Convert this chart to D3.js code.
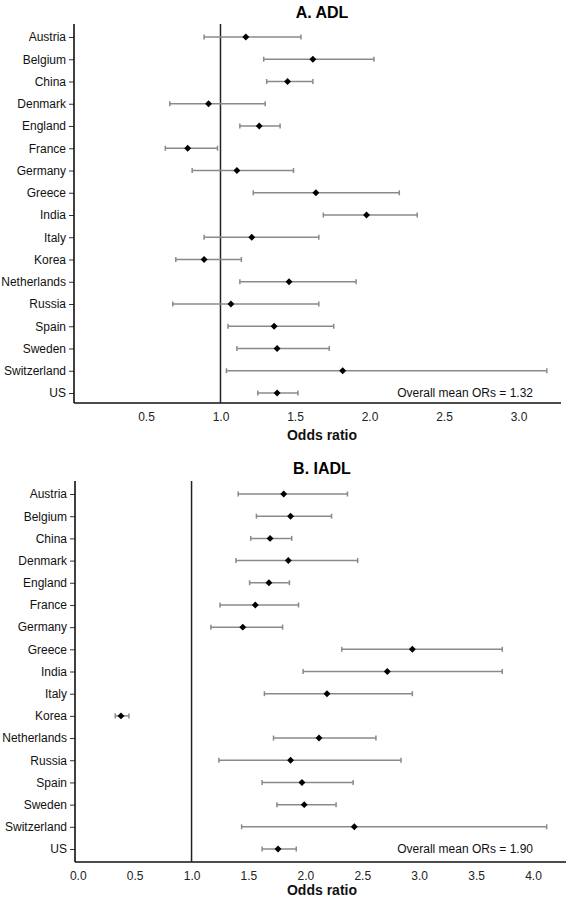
<!DOCTYPE html>
<html><head><meta charset="utf-8">
<script src="https://cdn.jsdelivr.net/npm/d3@7"></script>
<style>body{margin:0;background:#fff;} svg{display:block;}</style>
</head><body>
<script>
const countries = ["Austria","Belgium","China","Denmark","England","France","Germany","Greece","India","Italy","Korea","Netherlands","Russia","Spain","Sweden","Switzerland","US"];

const adlOR = [1.17,1.62,1.45,0.92,1.26,0.78,1.11,1.64,1.98,1.21,0.89,1.46,1.07,1.36,1.38,1.82,1.38];
const adlLo = [0.89,1.29,1.31,0.66,1.13,0.63,0.81,1.22,1.69,0.89,0.70,1.13,0.68,1.05,1.11,1.04,1.25];
const adlHi = [1.54,2.03,1.62,1.30,1.40,0.98,1.49,2.20,2.32,1.66,1.14,1.91,1.66,1.76,1.73,3.19,1.52];

const iadlOR = [1.81,1.87,1.69,1.85,1.68,1.56,1.45,2.94,2.72,2.19,0.38,2.12,1.87,1.97,1.99,2.43,1.76];
const iadlLo = [1.41,1.57,1.52,1.39,1.51,1.25,1.17,2.32,1.98,1.64,0.33,1.72,1.24,1.62,1.75,1.44,1.62];
const iadlHi = [2.37,2.23,1.88,2.46,1.86,1.94,1.80,3.73,3.73,2.94,0.45,2.62,2.84,2.42,2.27,4.12,1.92];

const adlTicks = [0.5,1.0,1.5,2.0,2.5,3.0];
const iadlTicks = [0.0,0.5,1.0,1.5,2.0,2.5,3.0,3.5,4.0];

const panels = [
  {title:"A. ADL", or:adlOR, lo:adlLo, hi:adlHi, ticks:adlTicks, domain:[0.017,3.285],
   xr:[74,561], top:24, rowFirst:37, rowLast:393, axisY:403, titleY:12, tickY:418, labelY:435, note:"Overall mean ORs = 1.32"},
  {title:"B. IADL", or:iadlOR, lo:iadlLo, hi:iadlHi, ticks:iadlTicks, domain:[-0.024,4.29],
   xr:[75,566], top:481, rowFirst:494, rowLast:849, axisY:862, titleY:468, tickY:870, labelY:890, note:"Overall mean ORs = 1.90"}
];

const svg = d3.select("body").append("svg").attr("width",572).attr("height",900);
const font = "'Liberation Sans', Arial, sans-serif";

panels.forEach(p => {
  const g = svg.append("g");
  const x = d3.scaleLinear().domain(p.domain).range(p.xr);
  const y = d3.scalePoint().domain(countries).range([p.rowFirst, p.rowLast]);

  g.append("text").attr("x",322).attr("y",p.titleY).attr("text-anchor","middle")
    .attr("dominant-baseline","central").attr("font-family",font).attr("font-weight","bold")
    .attr("font-size",16).attr("fill","#000").text(p.title);

  // y axis
  const yAxis = d3.axisLeft(y).tickSize(5).tickPadding(3);
  const ya = g.append("g").attr("transform",`translate(${p.xr[0]},0)`).call(yAxis);
  ya.select(".domain").remove();
  ya.selectAll(".tick line").attr("stroke","#333").attr("stroke-width",1);
  ya.selectAll(".tick text").attr("font-family",font).attr("font-size",12).attr("fill","#111");
  g.append("line").attr("x1",p.xr[0]).attr("x2",p.xr[0]).attr("y1",p.top).attr("y2",p.axisY)
    .attr("stroke","#111").attr("stroke-width",1.6);

  // x axis
  const xAxis = d3.axisBottom(x).tickValues(p.ticks).tickFormat(d3.format(".1f")).tickSize(0).tickPadding(9);
  const xa = g.append("g").attr("transform",`translate(0,${p.axisY})`).call(xAxis);
  xa.select(".domain").remove();
  xa.selectAll(".tick text").attr("font-family",font).attr("font-size",12).attr("fill","#222");
  g.append("line").attr("x1",p.xr[0]).attr("x2",p.xr[1]).attr("y1",p.axisY).attr("y2",p.axisY)
    .attr("stroke","#111").attr("stroke-width",1.6);

  g.append("text").attr("x",322).attr("y",p.labelY).attr("text-anchor","middle")
    .attr("dominant-baseline","central").attr("font-family",font).attr("font-weight","bold")
    .attr("font-size",14).attr("fill","#111").text("Odds ratio");

  // reference line at 1
  g.append("line").attr("x1",x(1)).attr("x2",x(1)).attr("y1",p.top).attr("y2",p.axisY)
    .attr("stroke","#222").attr("stroke-width",1.5);

  // error bars
  const rows = countries.map((c,i)=>({c, or:p.or[i], lo:p.lo[i], hi:p.hi[i]}));
  const eb = g.append("g").attr("stroke","#8a8a8a").attr("stroke-width",1.5);
  eb.selectAll("line.bar").data(rows).join("line").attr("class","bar")
    .attr("x1",d=>x(d.lo)).attr("x2",d=>x(d.hi)).attr("y1",d=>y(d.c)).attr("y2",d=>y(d.c));
  eb.selectAll("line.capl").data(rows).join("line").attr("class","capl")
    .attr("x1",d=>x(d.lo)).attr("x2",d=>x(d.lo)).attr("y1",d=>y(d.c)-2.5).attr("y2",d=>y(d.c)+2.5);
  eb.selectAll("line.caph").data(rows).join("line").attr("class","caph")
    .attr("x1",d=>x(d.hi)).attr("x2",d=>x(d.hi)).attr("y1",d=>y(d.c)-2.5).attr("y2",d=>y(d.c)+2.5);

  // diamonds
  const sym = d3.symbol().type(d3.symbolSquare).size(24);
  g.selectAll("path.pt").data(rows).join("path").attr("class","pt")
    .attr("d",sym).attr("fill","#000")
    .attr("transform",d=>`translate(${x(d.or)},${y(d.c)}) rotate(45)`);

  g.append("text").attr("x",533).attr("y",p.rowLast).attr("text-anchor","end")
    .attr("dominant-baseline","central").attr("font-family",font).attr("font-size",12)
    .attr("fill","#111").text(p.note);
});
</script>
</body></html>
